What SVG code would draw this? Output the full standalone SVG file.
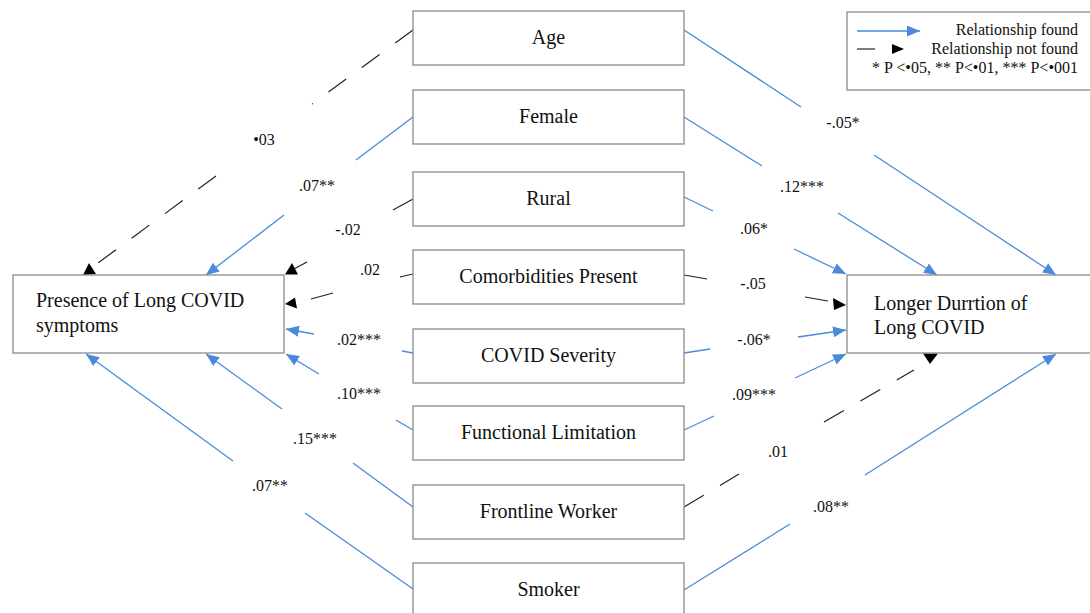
<svg xmlns="http://www.w3.org/2000/svg" width="1090" height="613" viewBox="0 0 1090 613">
<style>
.box{fill:#fff;stroke:#8a8a8a;stroke-width:1.3}
.nt{font-family:"Liberation Serif","Times New Roman",serif;font-size:20px;fill:#111}
.ct{text-anchor:middle}
.lb{font-family:"Liberation Serif","Times New Roman",serif;font-size:16px;fill:#111;text-anchor:middle}
.lg{font-family:"Liberation Serif","Times New Roman",serif;font-size:16px;fill:#111;text-anchor:end}
.bl{stroke:#4a89dc;stroke-width:1.3;fill:none}
.ba{stroke:#4a89dc;stroke-width:1.3;fill:none;marker-end:url(#ah)}
.bk{stroke:#222;stroke-width:1.2;fill:none}
.dk{stroke:#222;stroke-width:1.2;fill:none;stroke-dasharray:22 19.4}
.dk2{stroke:#222;stroke-width:1.2;fill:none;stroke-dasharray:23 19}
.kh{fill:#000}
</style>
<defs>
<marker id="ah" markerUnits="userSpaceOnUse" markerWidth="13" markerHeight="11" refX="13" refY="5.5" orient="auto">
<path d="M0,0 L13,5.5 L0,11 z" fill="#4a89dc"/>
</marker>
</defs>
<rect width="1090" height="613" fill="#fff"/>

<g id="legend">
<rect class="box" x="847" y="12" width="260" height="78"/>
<line class="ba" x1="857" y1="31" x2="920" y2="31"/>
<line class="bk" x1="857" y1="49" x2="875" y2="49"/>
<polygon class="kh" points="892,44 904,49 892,54"/>
<text class="lg" x="1078" y="35">Relationship found</text>
<text class="lg" x="1078" y="54">Relationship not found</text>
<text class="lg" x="1078" y="73">* P &lt;•05, ** P&lt;•01, *** P&lt;•001</text>
</g>

<g id="connectors">
<!-- Left side -->
<path class="dk" d="M413,30 L312,104"/>
<path class="dk" d="M216,176 L98,263"/>
<polygon class="kh" points="83,275 89,263 96,274"/>
<path class="bl" d="M413,117 L356,160"/>
<path class="ba" d="M284,215 L206,275"/>
<path class="bk" d="M413,199 L393,210"/>
<path class="bk" d="M307,262 L292,270"/>
<polygon class="kh" points="285,274.5 292,263 298,274.5"/>
<path class="bk" d="M413,274 L400,277"/>
<path class="bk" d="M333,293 L311,299"/>
<polygon class="kh" points="285,304 295,297.5 297,308.5"/>
<path class="bl" d="M413,353 L402,351"/>
<path class="ba" d="M314,334 L286,329"/>
<path class="bl" d="M413,430 L396,420"/>
<path class="ba" d="M319,374 L286,354"/>
<path class="bl" d="M413,507 L353,463"/>
<path class="ba" d="M282,409 L206,354"/>
<path class="bl" d="M413,589 L305,513"/>
<path class="ba" d="M233,461 L86,354"/>
<!-- Right side -->
<path class="bl" d="M684,30 L801,107"/>
<path class="ba" d="M874,155 L1056,275"/>
<path class="bl" d="M684,117 L762,166"/>
<path class="ba" d="M838,213 L937,275"/>
<path class="bl" d="M684,197 L713,211"/>
<path class="ba" d="M794,249 L846,274"/>
<path class="bk" d="M684,275 L707,279"/>
<path class="bk" d="M805,297 L828,301"/>
<polygon class="kh" points="833,298 834,310 846,305"/>
<path class="bl" d="M684,353 L710,349"/>
<path class="ba" d="M798,337 L846,330"/>
<path class="bl" d="M684,430 L714,416"/>
<path class="ba" d="M795,378 L846,354"/>
<path class="dk2" d="M684,507 L739,474"/>
<path class="dk2" d="M824,422 L914,370"/>
<polygon class="kh" points="923,353.5 938,353.5 930,364"/>
<path class="bl" d="M684,590 L790,524"/>
<path class="ba" d="M865,475 L1056,354"/>
</g>

<g id="labels">
<text class="lb" x="264" y="145">•03</text>
<text class="lb" x="317" y="191">.07**</text>
<text class="lb" x="348" y="235">-.02</text>
<text class="lb" x="370" y="275">.02</text>
<text class="lb" x="359" y="345">.02***</text>
<text class="lb" x="359" y="399">.10***</text>
<text class="lb" x="315" y="444">.15***</text>
<text class="lb" x="270" y="491">.07**</text>
<text class="lb" x="843" y="128">-.05*</text>
<text class="lb" x="802" y="192">.12***</text>
<text class="lb" x="754" y="234">.06*</text>
<text class="lb" x="753" y="289">-.05</text>
<text class="lb" x="754" y="345">-.06*</text>
<text class="lb" x="754" y="400">.09***</text>
<text class="lb" x="778" y="457">.01</text>
<text class="lb" x="831" y="512">.08**</text>
</g>

<g id="presence">
<rect class="box" x="13" y="275" width="271" height="78"/>
<text class="nt" x="36" y="307">Presence of Long COVID</text>
<text class="nt" x="36" y="332">symptoms</text>
</g>
<g id="duration">
<rect class="box" x="847" y="275" width="260" height="78"/>
<text class="nt" x="874" y="310">Longer Durrtion of</text>
<text class="nt" x="874" y="334">Long COVID</text>
</g>
<g id="age">
<rect class="box" x="413" y="11" width="271" height="54"/>
<text class="nt ct" x="548.5" y="44">Age</text>
</g>
<g id="female">
<rect class="box" x="413" y="90" width="271" height="54"/>
<text class="nt ct" x="548.5" y="123">Female</text>
</g>
<g id="rural">
<rect class="box" x="413" y="172" width="271" height="54"/>
<text class="nt ct" x="548.5" y="205">Rural</text>
</g>
<g id="comorbidities">
<rect class="box" x="413" y="250" width="271" height="54"/>
<text class="nt ct" x="548.5" y="283">Comorbidities Present</text>
</g>
<g id="severity">
<rect class="box" x="413" y="329" width="271" height="54"/>
<text class="nt ct" x="548.5" y="362">COVID Severity</text>
</g>
<g id="functional">
<rect class="box" x="413" y="406" width="271" height="54"/>
<text class="nt ct" x="548.5" y="439">Functional Limitation</text>
</g>
<g id="frontline">
<rect class="box" x="413" y="485" width="271" height="54"/>
<text class="nt ct" x="548.5" y="518">Frontline Worker</text>
</g>
<g id="smoker">
<rect class="box" x="413" y="563" width="271" height="54"/>
<text class="nt ct" x="548.5" y="596">Smoker</text>
</g>
</svg>
